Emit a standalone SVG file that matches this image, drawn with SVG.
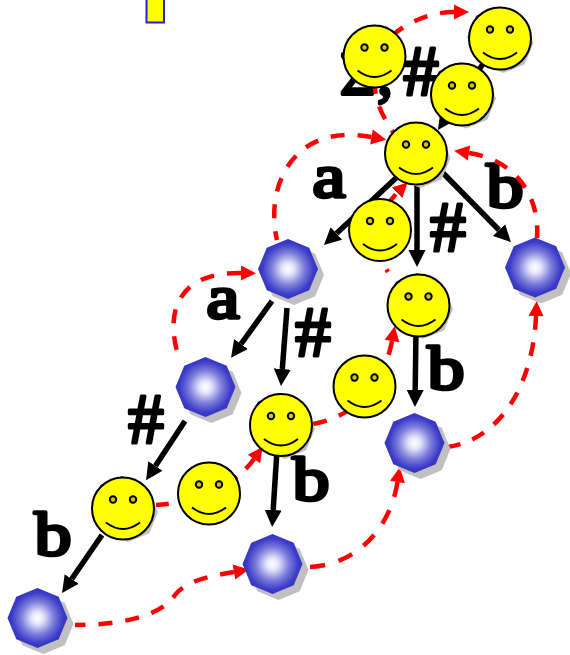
<svg xmlns="http://www.w3.org/2000/svg" width="570" height="655" viewBox="0 0 570 655">
<style>
.e{fill:none;stroke:#000;stroke-width:5.500;marker-end:url(#bh)}
.r,.f{fill:none;stroke:#f00;stroke-width:4.500;stroke-dasharray:14 13}
.r{marker-start:url(#rs)}
.f{marker-end:url(#rh)}
.t,.h{font-family:"Liberation Serif",serif;font-weight:normal;fill:#000;text-anchor:middle;stroke:#000;stroke-linejoin:round;lengthAdjust:spacingAndGlyphs}
.t{font-size:62px;stroke-width:3.500}
.h{font-size:72px;stroke-width:3}
</style>
<defs>
<marker id="bh" markerUnits="userSpaceOnUse" markerWidth="18" markerHeight="18" refX="0" refY="9" orient="auto"><path d="M0 0.500L17 9L0 17.500z" fill="#000"/></marker>
<marker id="rh" markerUnits="userSpaceOnUse" markerWidth="16" markerHeight="16" refX="0" refY="8" orient="auto"><path d="M0 0.500L15 8L0 15.500z" fill="#f00"/></marker>
<marker id="rs" markerUnits="userSpaceOnUse" markerWidth="16" markerHeight="16" refX="15" refY="8" orient="auto"><path d="M15 0.500L0 8L15 15.500z" fill="#f00"/></marker>
<radialGradient id="g"><stop offset="0" stop-color="#fff"/><stop offset="0.2" stop-color="#e4e4fa"/><stop offset="0.55" stop-color="#7c7cdc"/><stop offset="0.85" stop-color="#3c3cc8"/><stop offset="1" stop-color="#3333c4"/></radialGradient>
<g id="oct"><polygon points="0,-30 21.2,-21.2 30,0 21.2,21.2 0,30 -21.2,21.2 -30,0 -21.2,-21.2" fill="#c0c0c0" transform="translate(6,6)"/><polygon points="0,-30 21.2,-21.2 30,0 21.2,21.2 0,30 -21.2,21.2 -30,0 -21.2,-21.2" fill="url(#g)"/></g>
<g id="sm"><circle r="31" fill="#ff0" stroke="#000" stroke-width="2"/><circle cx="-10" cy="-9" r="3.200" fill="#cc0" stroke="#000" stroke-width="2"/><circle cx="10" cy="-9" r="3.200" fill="#cc0" stroke="#000" stroke-width="2"/><path d="M-17 14Q0 27 17 14" fill="none" stroke="#000" stroke-width="2"/></g>
</defs>
<rect id="marker-box" x="146.500" y="-6" width="17.500" height="28.500" fill="#ff0" stroke="#22c" stroke-width="2"/>
<g id="labels">
<text class="t" x="358" y="94">Σ</text><text class="t" x="385" y="94">,</text><text class="h" x="421" y="95">#</text>
<text class="t" x="329" y="197" textLength="33" lengthAdjust="spacingAndGlyphs">a</text>
<text class="t" x="505" y="207" textLength="37" lengthAdjust="spacingAndGlyphs">b</text>
<text class="h" x="448" y="251">#</text>
<text class="t" x="223" y="318" textLength="33" lengthAdjust="spacingAndGlyphs">a</text>
<text class="h" x="313" y="356">#</text>
<text class="t" x="446" y="389" textLength="37" lengthAdjust="spacingAndGlyphs">b</text>
<text class="h" x="146" y="443">#</text>
<text class="t" x="311" y="500" textLength="37" lengthAdjust="spacingAndGlyphs">b</text>
<text class="t" x="53" y="555" textLength="37" lengthAdjust="spacingAndGlyphs">b</text>
</g>
<g id="connectors">
<path class="e" d="M500 39L447.500 116"/>
<path class="e" d="M396 178L336.400 233.400"/>
<path class="e" d="M417 185L417 250"/>
<path class="e" d="M443 173L499 230"/>
<path class="e" d="M272 301L241 344"/>
<path class="e" d="M287 308L282.300 369"/>
<path class="e" d="M185 421L155.400 466"/>
<path class="e" d="M102 535L71.700 579"/>
<path class="e" d="M277 450L273.200 510"/>
<path class="e" d="M416 330L415.200 390"/>
<path class="r" d="M454 12C430 12 408 22 390 37"/>
<path class="f" stroke-dashoffset="8" d="M375 88C376 105 385 120 395 135"/>
<path class="r" d="M371.500 137C290 122 265 190 277 240"/>
<path class="r" d="M469 153C515 160 540 195 537 238"/>
<path class="r" d="M241 273C175 272 165 315 179 358"/>
<path class="f" stroke-dashoffset="11" d="M388 272C368 240 382 208 397 193"/>
<path class="r" pathLength="122" d="M392 341C383 390 350 418 313 424"/>
<path class="r" pathLength="122" d="M254 459C232 490 190 503 156 505"/>
<path class="r" d="M234 572C205 577 185 582 175 595C160 618 115 625 75 625"/>
<path class="r" pathLength="122" d="M397.500 482C390 530 355 565 310 567"/>
<path class="r" pathLength="176" d="M536 316C533 385 500 440 447 447"/>
</g>
<g id="n1"><use href="#sm" x="374.500" y="56.500"/></g>
<g id="n2"><use href="#oct" x="497.500" y="37"/><use href="#sm" x="500" y="38.500"/></g>
<g id="n3"><use href="#oct" x="460" y="92.500"/><use href="#sm" x="462" y="94.500"/></g>
<g id="n4"><use href="#oct" x="414.500" y="152"/><use href="#sm" x="416" y="153.500"/></g>
<g id="n5"><use href="#sm" x="380" y="230"/></g>
<g id="n6"><use href="#oct" x="417" y="303"/><use href="#sm" x="418.500" y="305.500"/></g>
<g id="n7"><use href="#sm" x="364.500" y="386.500"/></g>
<g id="n8"><use href="#oct" x="279" y="423"/><use href="#sm" x="281" y="425"/></g>
<g id="n9"><use href="#oct" x="122" y="506"/><use href="#sm" x="123" y="508.500"/></g>
<g id="n10"><use href="#sm" x="209" y="493.500"/></g>
<g id="s1"><use href="#oct" x="288" y="269"/></g>
<g id="s2"><use href="#oct" x="205.500" y="387"/></g>
<g id="s3"><use href="#oct" x="37.500" y="618"/></g>
<g id="s4"><use href="#oct" x="272.500" y="564"/></g>
<g id="s5"><use href="#oct" x="414.500" y="443"/></g>
<g id="s6"><use href="#oct" x="535" y="267.500"/></g>
</svg>
